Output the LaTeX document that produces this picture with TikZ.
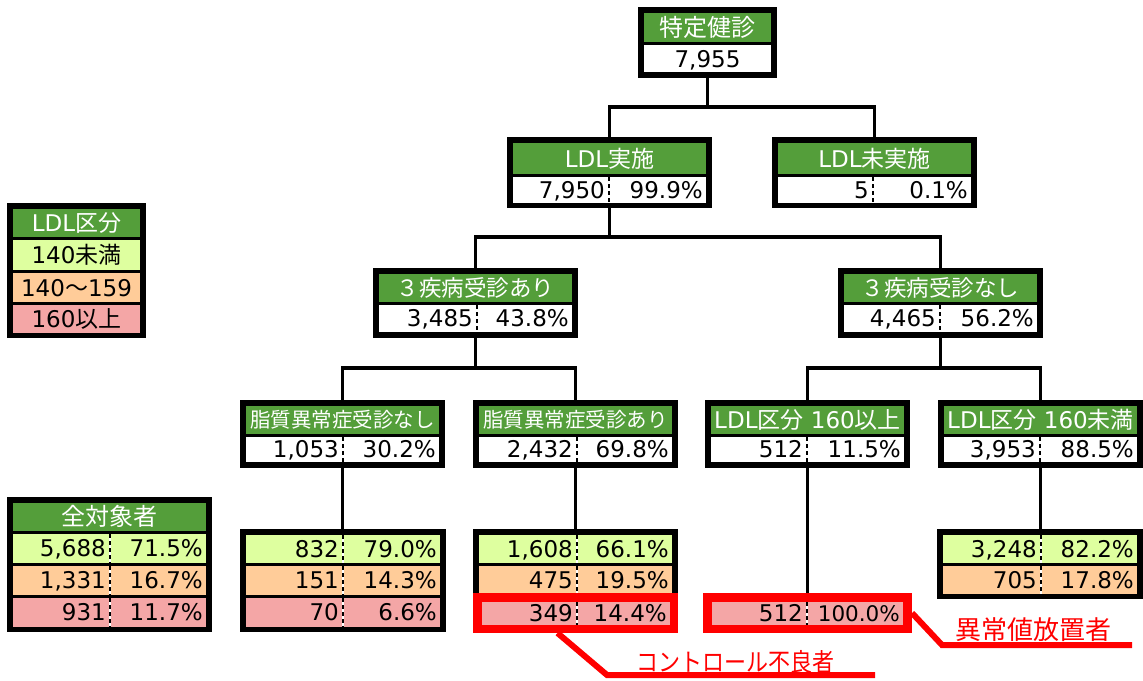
\documentclass[tikz,border=0pt]{standalone}
\usepackage{fontspec}
\setmainfont{DejaVu Sans}
\newfontfamily\jp{Noto Sans CJK JP}
\usetikzlibrary{fit}
\definecolor{hgreen}{RGB}{84,158,58}
\definecolor{lgreen}{RGB}{222,255,159}
\definecolor{lorange}{RGB}{255,204,153}
\definecolor{lpink}{RGB}{244,166,166}
\definecolor{cred}{RGB}{255,0,0}
\tikzset{
  frame/.style={fill=black, inner sep=0pt, outer sep=0pt},
  cellst/.style={inner sep=0pt, outer sep=0pt},
  vtext/.style={text=black, inner sep=0pt, font={\fontsize{23}{23}\selectfont}},
  conn/.style={line width=3.2pt, line join=miter},
  callout/.style={cred, line width=6pt, line join=miter},
  divw/.style={white, line width=1.6pt},
  divb/.style={black, line width=1.6pt, dash pattern=on 4pt off 3pt},
  redlab/.style={text=cred, inner sep=0pt},
}
\newcommand\frm[5]{\node[frame, fit={(#2,#3) (#4,#5)}] (#1) {};}
\newcommand\hcell[7]{%
  \node[cellst, fill=hgreen, fit={(#2,#3) (#4,#5)}] (#1) {};
  \node[anchor=base, inner sep=0pt, text=white, font={\fontsize{#6}{#6}\selectfont}] (#1t) at ({(#2+#4)/2},{(#3+#5)/2+0.37*#6}) {#7};}
\newcommand\lcell[6]{%
  \node[cellst, fill=#6, fit={(#2,#3) (#4,#5)}] (#1) {};}
\newcommand\ltext[6]{%
  \node[vtext, anchor=base] (#1) at ({(#2+#4)/2},{(#3+#5)/2+8.5}) {#6};}
\newcommand\vrow[9]{%
  \node[cellst, fill=#7, fit={(#2,#3) (#4,#5)}] (#1) {};
  \draw[divw] (#6,#3) -- (#6,#5);
  \draw[divb] (#6,#3) -- (#6,#5);
  \node[vtext, anchor=base east] (#1n) at ({#6-4},{(#3+#5)/2+8.2}) {#8};
  \node[vtext, anchor=base east] (#1p) at ({#4-3},{(#3+#5)/2+8.2}) {#9};}
\begin{document}
\begin{tikzpicture}[x=1pt,y=-1pt]
\useasboundingbox (0,0) rectangle (1143,680);
\fill[white] (0,0) rectangle (1143,680);

% legend
\frm{leg}{7}{203}{146}{338}
\hcell{legh}{13}{209}{140}{237}{23}{LDL{\jp 区分}}
\lcell{leg1}{13}{240}{140}{270}{lgreen}
\lcell{leg2}{13}{273}{140}{302}{lorange}
\lcell{leg3}{13}{305}{140}{333}{lpink}
\ltext{leg1t}{13}{240}{140}{270}{140{\jp 未満}}
\ltext{leg2t}{13}{273}{140}{302}{140{\jp ～}159}
\ltext{leg3t}{13}{305}{140}{333}{160{\jp 以上}}

% all subjects
\frm{all}{7}{497}{212}{632}
\hcell{allh}{13}{503}{206}{531}{24}{\jp 全対象者}
\vrow{all1}{13}{534}{206}{563}{110}{lgreen}{5,688}{71.5\%}
\vrow{all2}{13}{566}{206}{595}{110}{lorange}{1,331}{16.7\%}
\vrow{all3}{13}{598}{206}{627}{110}{lpink}{931}{11.7\%}

% top
\frm{top}{638}{7}{777}{78}
\hcell{toph}{644}{13}{771}{42}{24}{\jp 特定健診}
\lcell{topv}{644}{45}{771}{72}{white}
\ltext{topvt}{644}{45}{771}{72}{7,955}

% level 2
\frm{ldl}{507}{137}{712}{208}
\hcell{ldlh}{513}{143}{706}{174}{23}{LDL{\jp 実施}}
\vrow{ldlv}{513}{177}{706}{203}{609}{white}{7,950}{99.9\%}
\frm{noldl}{772}{137}{977}{208}
\hcell{noldlh}{778}{143}{971}{174}{23}{LDL{\jp 未実施}}
\vrow{noldlv}{778}{177}{971}{203}{873}{white}{5}{0.1\%}

% level 3
\frm{d3y}{373}{268}{578}{338}
\hcell{d3yh}{379}{274}{572}{302}{22.5}{\jp ３疾病受診あり}
\vrow{d3yv}{379}{305}{572}{332}{477}{white}{3,485}{43.8\%}
\frm{d3n}{838}{268}{1043}{338}
\hcell{d3nh}{844}{274}{1037}{302}{22.5}{\jp ３疾病受診なし}
\vrow{d3nv}{844}{305}{1037}{332}{940}{white}{4,465}{56.2\%}

% level 4
\frm{lipn}{240}{400}{445}{468}
\hcell{lipnh}{246}{406}{439}{434}{20.5}{\jp 脂質異常症受診なし}
\vrow{lipnv}{246}{437}{439}{462}{343}{white}{1,053}{30.2\%}
\frm{lipy}{473}{400}{678}{468}
\hcell{lipyh}{479}{406}{672}{434}{20.5}{\jp 脂質異常症受診あり}
\vrow{lipyv}{479}{437}{672}{462}{577}{white}{2,432}{69.8\%}
\frm{hi}{705}{400}{910}{468}
\hcell{hih}{711}{406}{904}{434}{23}{LDL{\jp 区分} 160{\jp 以上}}
\vrow{hiv}{711}{437}{904}{462}{807}{white}{512}{11.5\%}
\frm{lo}{938}{400}{1143}{468}
\hcell{loh}{944}{406}{1137}{434}{23}{LDL{\jp 区分} 160{\jp 未満}}
\vrow{lov}{944}{437}{1137}{462}{1040}{white}{3,953}{88.5\%}

% level 5
\frm{tlipn}{240}{529}{446}{632}
\vrow{tlipna}{246}{535}{440}{563}{343}{lgreen}{832}{79.0\%}
\vrow{tlipnb}{246}{566}{440}{595}{343}{lorange}{151}{14.3\%}
\vrow{tlipnc}{246}{598}{440}{627}{343}{lpink}{70}{6.6\%}
\frm{tlipy}{473}{529}{678}{600}
\vrow{tlipya}{479}{535}{672}{563}{577}{lgreen}{1,608}{66.1\%}
\vrow{tlipyb}{479}{566}{672}{595}{577}{lorange}{475}{19.5\%}
\node[cellst, fill=cred, fit={(473,593) (678,633)}] (r349) {};
\vrow{tlipyc}{482}{602}{670}{625}{577}{lpink}{349}{14.4\%}
\node[cellst, fill=cred, fit={(703,593) (912,633)}] (rhi) {};
\vrow{rhia}{712}{602}{903}{625}{807}{lpink}{512}{{\fontsize{21.5}{21.5}\selectfont 100.0\%}}
\frm{tlo}{937}{529}{1143}{599}
\vrow{tloa}{943}{535}{1137}{563}{1041}{lgreen}{3,248}{82.2\%}
\vrow{tlob}{943}{566}{1137}{594}{1041}{lorange}{705}{17.8\%}

% connectors
\coordinate (j1) at (0,107);
\coordinate (j2) at (0,237);
\coordinate (j3) at (0,368);
\draw[conn] (top.south) -- (top.south |- j1) -| (ldl.north);
\draw[conn] (top.south |- j1) -| (noldl.north);
\draw[conn] (ldl.south) -- (ldl.south |- j2) -| (d3y.north);
\draw[conn] (ldl.south |- j2) -| (d3n.north);
\draw[conn] (d3y.south) -- (d3y.south |- j3) -| (lipn.north);
\draw[conn] (d3y.south |- j3) -| (lipy.north);
\draw[conn] (d3n.south) -- (d3n.south |- j3) -| (hi.north);
\draw[conn] (d3n.south |- j3) -| (lo.north);
\draw[conn] (lipn.south) -- (lipn.south |- tlipn.north);
\draw[conn] (lipy.south) -- (lipy.south |- tlipy.north);
\draw[conn] (hi.south) -- (hi.south |- rhi.north);
\draw[conn] (lo.south) -- (lo.south |- tlo.north);

% callouts
\coordinate (k1) at (607,675);
\coordinate (k2) at (875,675);
\coordinate (k3) at (942,645);
\coordinate (k4) at (1132,645);
\draw[callout] ([xshift=-18pt]r349.south) -- (k1) -- (k2);
\draw[callout] (rhi.east) -- (k3) -- (k4);
\node[redlab, anchor=base, transform shape, xscale=0.88, font={\fontsize{25}{25}\selectfont\jp}] (lab1) at (735,671) {コントロール不良者};
\node[redlab, anchor=base, font={\fontsize{26}{26}\selectfont\jp}] (lab2) at (1033,639) {異常値放置者};
\end{tikzpicture}
\end{document}
